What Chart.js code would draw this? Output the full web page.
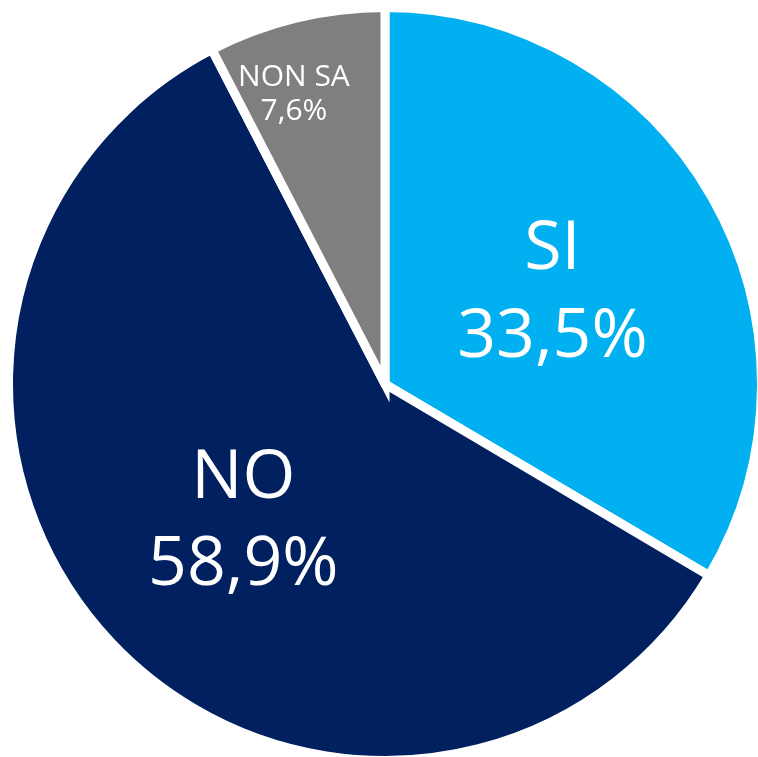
<!DOCTYPE html>
<html lang="it">
<head>
    <meta charset="UTF-8">
    <title>SI / NO / NON SA</title>
    <script src="https://cdn.jsdelivr.net/npm/chart.js"></script>
    <style>
        html, body {
            margin: 0;
            padding: 0;
            background: #ffffff;
            overflow: hidden;
        }
        .chart-container {
            position: absolute;
            left: 4px;
            top: 3px;
            width: 762px;
            height: 762px;
        }
    </style>
</head>
<body>
    <div class="chart-container">
        <canvas id="pieChart"></canvas>
    </div>
    <script>
        const labels = ["SI", "NO", "NON SA"];
        const values = [33.5, 58.9, 7.6];
        const valueLabels = ["33,5%", "58,9%", "7,6%"];
        const colors = ["#00B0F0", "#002060", "#7F7F7F"];

        // label placement: fraction of radius, angle shift (deg), font size, line gap
        const labelRadius = [0.505, 0.525, 0.805];
        const labelShift = [1.4, -0.8, -3.8];
        const labelFont = [68, 68, 30];
        const labelGap = [88, 87, 34];

        const sliceLabels = {
            id: "sliceLabels",
            afterDatasetsDraw(chart) {
                const ctx = chart.ctx;
                const arcs = chart.getDatasetMeta(0).data;
                ctx.save();
                ctx.fillStyle = "#ffffff";
                ctx.textAlign = "center";
                ctx.textBaseline = "middle";
                arcs.forEach((arc, i) => {
                    const p = arc.getProps(["x", "y", "startAngle", "endAngle", "outerRadius"], true);
                    const mid = (p.startAngle + p.endAngle) / 2 + labelShift[i] * Math.PI / 180;
                    const r = p.outerRadius * labelRadius[i];
                    const cx = p.x + Math.cos(mid) * r;
                    const cy = p.y + Math.sin(mid) * r;
                    ctx.font = labelFont[i] + "px 'Open Sans', sans-serif";
                    ctx.fillText(labels[i], cx, cy - labelGap[i] / 2);
                    ctx.fillText(valueLabels[i], cx, cy + labelGap[i] / 2);
                });
                ctx.restore();
            }
        };

        const ctx = document.getElementById("pieChart").getContext("2d");
        new Chart(ctx, {
            type: "pie",
            data: {
                labels: labels,
                datasets: [{
                    data: values,
                    backgroundColor: colors,
                    borderColor: "#ffffff",
                    borderWidth: 9,
                    borderJoinStyle: "miter"
                }]
            },
            options: {
                responsive: true,
                maintainAspectRatio: false,
                animation: false,
                layout: { padding: 0 },
                plugins: {
                    legend: { display: false },
                    tooltip: { enabled: false }
                }
            },
            plugins: [sliceLabels]
        });
    </script>
</body>
</html>
